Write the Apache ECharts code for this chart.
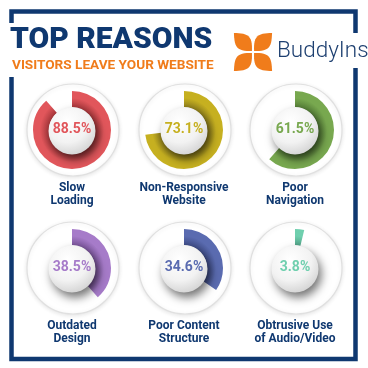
<!DOCTYPE html>
<html><head><meta charset="utf-8">
<script src="https://cdn.jsdelivr.net/npm/echarts@6/dist/echarts.min.js"></script>
<style>html,body{margin:0;padding:0;background:#fff}#c{width:368px;height:368px}</style>
</head><body><div id="c"></div>
<script>
const categories = ['Slow\nLoading', 'Non-Responsive\nWebsite', 'Poor\nNavigation', 'Outdated\nDesign', 'Poor Content\nStructure', 'Obtrusive Use\nof Audio/Video'];
const values = [88.5, 73.1, 61.5, 38.5, 34.6, 3.8];
const ringColors = ['#e1565b', '#c6b020', '#78a84f', '#a67bc9', '#5a6bb0', '#6fcfae'];
const darkColors = ['#9e3236', '#85761a', '#4f7733', '#734f93', '#3a4780', '#4c9a80'];
const colX = [72, 184, 295];
const rowY = [130, 268];
const navy = '#0f3870';
const orange = '#f07c1b';

const chart = echarts.init(document.getElementById('c'));
const series = [];
const graphic = [];

// frame
graphic.push({type:'polyline', z:1, shape:{points:[[11.5,23],[11.5,11.5],[355.5,11.5],[355.5,33]]}, style:{stroke:navy, lineWidth:4.5, fill:null}});
graphic.push({type:'polyline', z:1, shape:{points:[[355.5,68],[355.5,359],[11.5,359],[11.5,77]]}, style:{stroke:navy, lineWidth:4.5, fill:null}});
// title
graphic.push({type:'text', z:1, x:10, y:25, style:{text:'TOP REASONS', fill:navy, font:'900 30px Roboto', textVerticalAlign:'top'}});
graphic.push({type:'text', z:1, x:12, y:58.5, style:{text:'VISITORS LEAVE YOUR WEBSITE', fill:orange, font:'bold 13.6px Roboto', textVerticalAlign:'top'}});
// logo petals (lens shapes)
const lcx = 253, lcy = 52;
function petal(angleDeg){
  const pts = [];
  const L = 27, d = 1.5, h = 8.5;
  const n = 14;
  for (let k = 0; k <= n; k++) { const t = k / n; pts.push([d + (L - d) * t, -h * Math.sin(Math.PI * t) * (1 - 0.15 * t)]); }
  for (let k = n - 1; k > 0; k--) { const t = k / n; pts.push([d + (L - d) * t, h * Math.sin(Math.PI * t) * (1 - 0.15 * t)]); }
  const a = angleDeg * Math.PI / 180;
  return pts.map(function(p){ return [lcx + p[0] * Math.cos(a) - p[1] * Math.sin(a), lcy + p[0] * Math.sin(a) + p[1] * Math.cos(a)]; });
}
[45, 135, 225, 315].forEach(function(a){
  graphic.push({type:'polygon', z:1, shape:{points:petal(a)}, style:{fill:orange}});
});
graphic.push({type:'text', z:1, x:277, y:40, style:{text:'BuddyIns', fill:'#1d3f70', font:'300 22.5px Roboto', textVerticalAlign:'top'}});

values.forEach(function(v, i){
  const cx = colX[i % 3], cy = rowY[Math.floor(i / 3)];
  graphic.push({type:'circle', z:1, shape:{cx:cx+1, cy:cy, r:46},
    style:{fill:'#fff', stroke:'#e0e0e0', lineWidth:1.2, shadowBlur:4, shadowColor:'rgba(0,0,0,0.10)', shadowOffsetY:1}});
  series.push({
    type:'gauge', z:3, center:[cx, cy], radius:39, startAngle:90, endAngle:-270, min:0, max:100,
    pointer:{show:false}, anchor:{show:false},
    progress:{show:true, width:16, itemStyle:{color:{type:'radial', x:cx, y:cy, r:39, global:true,
      colorStops:[{offset:0.55, color:darkColors[i]},{offset:0.82, color:ringColors[i]},{offset:1, color:ringColors[i]}]}}},
    axisLine:{lineStyle:{width:16, color:[[1,'rgba(0,0,0,0)']]}},
    splitLine:{show:false}, axisTick:{show:false}, axisLabel:{show:false},
    title:{show:false}, detail:{show:false},
    data:[{value:v}]
  });
  graphic.push({type:'circle', z:50, shape:{cx:cx, cy:cy+1, r:23.5},
    style:{fill:{type:'radial', x:0.4, y:0.3, r:0.75, colorStops:[{offset:0, color:'#ffffff'},{offset:0.6, color:'#f2f2f2'},{offset:1, color:'#d2d2d2'}]},
      shadowBlur:10, shadowOffsetX:3, shadowOffsetY:5, shadowColor:'rgba(0,0,0,0.55)'}});
  series.push({
    type:'gauge', z:60, center:[cx, cy], radius:39, startAngle:90, endAngle:-270, min:0, max:100,
    pointer:{show:false}, anchor:{show:false}, progress:{show:false},
    axisLine:{show:false}, splitLine:{show:false}, axisTick:{show:false}, axisLabel:{show:false},
    title:{show:true, offsetCenter:[0, 64], color:navy, fontFamily:'Roboto', fontWeight:'bold', fontSize:12, lineHeight:13},
    detail:{show:true, offsetCenter:[0, -1], color:ringColors[i], fontFamily:'Roboto', fontWeight:'bold', fontSize:14,
      formatter:function(val){ return val.toFixed(1) + '%'; }},
    data:[{value:v, name:categories[i]}]
  });
});

chart.setOption({animation:false, backgroundColor:'#fff', graphic:graphic, series:series});
</script></body></html>
